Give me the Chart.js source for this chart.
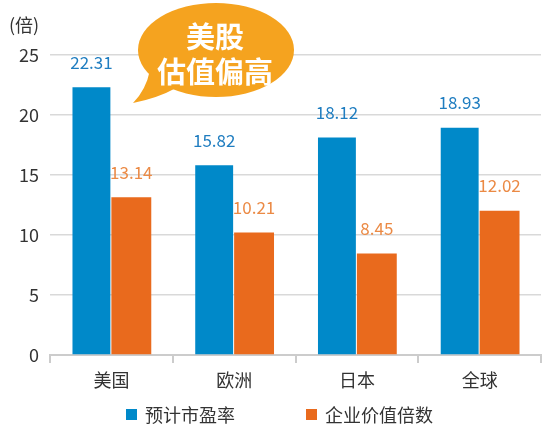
<!DOCTYPE html>
<html>
<head>
<meta charset="utf-8">
<script src="https://cdn.jsdelivr.net/npm/chart.js@4.4.1/dist/chart.umd.min.js"></script>
<style>
  html, body { margin: 0; padding: 0; background: #fff; }
  #wrap { width: 550px; height: 434px; position: relative; }
</style>
</head>
<body>
<div id="wrap"><canvas id="c"></canvas></div>
<script>
const categories = ['美国', '欧洲', '日本', '全球'];
const seriesNames = ['预计市盈率', '企业价值倍数'];
const peValues = [22.31, 15.82, 18.12, 18.93];
const evValues = [13.14, 10.21, 8.45, 12.02];
const yTicks = [0, 5, 10, 15, 20, 25];
const unitLabel = '(倍)';
const calloutLines = ['美股', '估值偏高'];

const FONT = '"Noto Sans CJK SC", "Noto Sans", sans-serif';
const BLUE = '#0089c9';
const ORANGE = '#e96a1d';
const BLUE_TXT = '#1f7dc0';
const ORANGE_TXT = '#eb8a45';
const BUBBLE = '#f5a31f';

const valueLabels = {
  id: 'valueLabels',
  afterDatasetsDraw(chart) {
    const ctx = chart.ctx;
    ctx.save();
    ctx.font = '17px ' + FONT;
    ctx.textAlign = 'center';
    ctx.textBaseline = 'middle';
    chart.data.datasets.forEach((ds, di) => {
      const meta = chart.getDatasetMeta(di);
      ctx.fillStyle = di === 0 ? BLUE_TXT : ORANGE_TXT;
      meta.data.forEach((bar, i) => {
        ctx.fillText(ds.data[i].toFixed(2), bar.x, bar.y - 25);
      });
    });
    ctx.restore();
  }
};

const extras = {
  id: 'extras',
  afterDraw(chart) {
    const ctx = chart.ctx;
    ctx.save();
    // unit label
    ctx.font = '18px ' + FONT;
    ctx.fillStyle = '#333';
    ctx.textAlign = 'left';
    ctx.textBaseline = 'middle';
    ctx.fillText(unitLabel, 9, 25);

    // callout bubble
    ctx.fillStyle = BUBBLE;
    ctx.beginPath();
    ctx.moveTo(150, 70);
    ctx.quadraticCurveTo(146, 90, 133, 103);
    ctx.quadraticCurveTo(158, 98, 176, 88);
    ctx.closePath();
    ctx.fill();
    ctx.beginPath();
    ctx.ellipse(216, 50, 78, 47, 0, 0, Math.PI * 2);
    ctx.fill();
    ctx.fillStyle = '#fff';
    ctx.font = 'bold 29px ' + FONT;
    ctx.textAlign = 'center';
    ctx.fillText(calloutLines[0], 215, 37);
    ctx.fillText(calloutLines[1], 215, 72);

    // legend
    const items = [
      { box: 126, text: 145, color: BLUE, label: chart.data.datasets[0].label },
      { box: 306, text: 325, color: ORANGE, label: chart.data.datasets[1].label }
    ];
    ctx.font = '18px ' + FONT;
    ctx.textAlign = 'left';
    items.forEach(it => {
      ctx.fillStyle = it.color;
      ctx.fillRect(it.box, 409, 11, 11);
      ctx.fillStyle = '#333';
      ctx.fillText(it.label, it.text, 415);
    });
    ctx.restore();
  }
};

new Chart(document.getElementById('c'), {
  type: 'bar',
  data: {
    labels: categories,
    datasets: [
      { label: seriesNames[0], data: peValues, backgroundColor: BLUE, barPercentage: 0.95, categoryPercentage: 0.65 },
      { label: seriesNames[1], data: evValues, backgroundColor: ORANGE, barPercentage: 1.0, categoryPercentage: 0.65 }
    ]
  },
  options: {
    responsive: true,
    maintainAspectRatio: false,
    animation: false,
    layout: { padding: { left: 0, right: 9, top: 55, bottom: 43 } },
    plugins: {
      legend: { display: false },
      tooltip: { enabled: false }
    },
    scales: {
      x: {
        grid: { drawOnChartArea: false, drawTicks: true, tickLength: 8, color: '#cccccc', lineWidth: 2 },
        border: { color: '#cccccc', width: 2 },
        ticks: { color: '#333', font: { size: 18, family: FONT }, padding: 6 },
        afterFit(s) { s.height = 36; }
      },
      y: {
        min: 0,
        max: 25,
        afterBuildTicks(s) { s.ticks = yTicks.map(v => ({ value: v })); },
        grid: { color: '#d9d9d9', lineWidth: 1.5, drawTicks: false },
        border: { display: false },
        ticks: { color: '#333', font: { size: 18, family: FONT }, padding: 11 },
        afterFit(s) { s.width = 50; }
      }
    }
  },
  plugins: [valueLabels, extras]
});
</script>
</body>
</html>
